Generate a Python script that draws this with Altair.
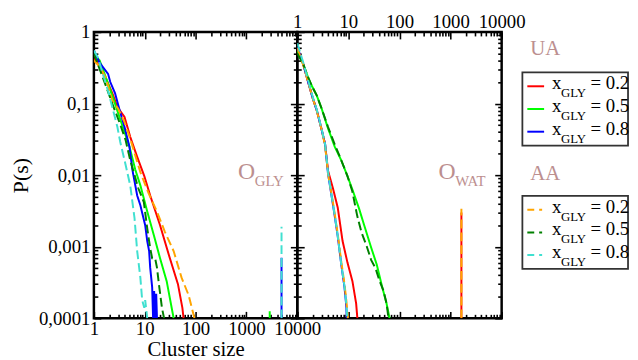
import altair as alt
import pandas as pd

# ------------------------------------------------------------------ data
series_keys = ["ua02", "ua05", "ua08", "aa02", "aa05", "aa08"]
series_group = ["UA", "UA", "UA", "AA", "AA", "AA"]
series_xgly = ["0.2", "0.5", "0.8", "0.2", "0.5", "0.8"]
series_colors = ["#ff0000", "#00ff00", "#0000ff", "#ffa500", "#008000", "#40e0d0"]
group_titles = ["UA", "AA"]
panel_keys = ["GLY", "WAT"]
panel_main = ["O", "O"]
panel_sub = ["GLY", "WAT"]

# O_GLY panel
gly_ua02_x = [1, 1.1, 1.7, 2.3, 2.9, 4.0, 5.2, 7.1, 9.8, 12.8, 20, 31, 45, 55, 58]
gly_ua02_y = [0.42, 0.40, 0.23, 0.14, 0.089, 0.065, 0.034, 0.018, 0.0097, 0.0052, 0.002, 0.0007, 0.0003, 0.00014, 0.0001]
gly_ua05_x = [1, 1.3, 1.9, 2.6, 3.7, 5.0, 6.5, 8.2, 11.2, 15.3, 20, 27, 37]
gly_ua05_y = [0.50, 0.40, 0.19, 0.10, 0.047, 0.025, 0.012, 0.0072, 0.0031, 0.0014, 0.00069, 0.00033, 0.0001]
gly_ua08_x = [1, 1.3, 1.9, 2.1, 2.6, 3.2, 4.0, 5.0, 5.7, 7.1, 8.2, 10.2, 11.2, 12.2, 12.8, 14.0, 14.6, 15.3, 16.0, 16.8, 17.4]
gly_ua08_y = [0.55, 0.37, 0.26, 0.20, 0.14, 0.081, 0.047, 0.025, 0.012, 0.0052, 0.0038, 0.002, 0.0012, 0.00087, 0.00051, 0.00027, 0.0001, 0.00024, 0.0001, 0.00022, 0.0001]
gly_aa02_x = [1, 1.3, 1.7, 2.3, 3.0, 4.0, 5.2, 8.2, 12, 17.4, 25, 37, 53, 73, 95]
gly_aa02_y = [0.40, 0.33, 0.23, 0.11, 0.085, 0.055, 0.032, 0.011, 0.0055, 0.0031, 0.0016, 0.00087, 0.00037, 0.00021, 0.0001]
gly_aa05_x = [1, 1.5, 2.3, 3.2, 4.2, 5.2, 6.3, 7.5, 9.6, 11.2, 12.8, 14, 16, 17.4, 19.1, 21.8, 24]
gly_aa05_y = [0.50, 0.23, 0.10, 0.054, 0.031, 0.016, 0.010, 0.0065, 0.0042, 0.0018, 0.00095, 0.00069, 0.00069, 0.00051, 0.00029, 0.00014, 0.0001]
gly_aa08_x = [1, 1.2, 1.5, 1.9, 2.3, 2.9, 3.3, 4.2, 5.2, 6.3, 7.1, 8.2, 8.9, 9.8, 10.2, 11.2]
gly_aa08_y = [0.55, 0.44, 0.26, 0.15, 0.089, 0.047, 0.029, 0.014, 0.0071, 0.0025, 0.00087, 0.00037, 0.00018, 0.00014, 0.00018, 0.0001]

# O_WAT panel
wat_ua02_x = [1, 1.3, 1.6, 2.0, 2.4, 3.0, 3.5, 4.0, 5.0, 6.2, 7.7, 9.6, 12, 14.2, 15]
wat_ua02_y = [0.60, 0.36, 0.21, 0.12, 0.081, 0.043, 0.027, 0.0115, 0.0065, 0.0035, 0.0012, 0.0006, 0.00033, 0.00016, 0.0001]
wat_ua05_x = [1, 1.3, 1.6, 1.9, 2.4, 3.0, 4.0, 5.4, 7.3, 9.6, 11.9, 16.2, 20.4, 27.6, 36, 45, 56, 64]
wat_ua05_y = [0.55, 0.36, 0.24, 0.18, 0.13, 0.085, 0.045, 0.025, 0.016, 0.0097, 0.0064, 0.0034, 0.002, 0.001, 0.00056, 0.00029, 0.00016, 0.0001]
wat_ua08_x = [1, 1.3, 1.6, 2.0, 2.4, 3.0, 3.5, 4.0, 4.9, 5.4, 6.2, 7.3, 8.4, 9.1, 9.3]
wat_ua08_y = [0.62, 0.36, 0.21, 0.12, 0.081, 0.043, 0.027, 0.0105, 0.0042, 0.0027, 0.0014, 0.00055, 0.00027, 0.00015, 0.0001]
wat_aa02_x = [1, 1.3, 1.6, 2.0, 2.4, 3.0, 3.5, 4.0, 4.9, 5.4, 6.2, 7.3, 8.4, 9.1, 9.8]
wat_aa02_y = [0.60, 0.35, 0.21, 0.12, 0.080, 0.043, 0.026, 0.0105, 0.0045, 0.0029, 0.0015, 0.0006, 0.0003, 0.00018, 0.0001]
wat_aa05_x = [1, 1.3, 1.6, 1.9, 2.4, 3.0, 4.0, 5.4, 7.3, 9.6, 11.9, 14.9, 18, 23, 28, 34, 41, 49, 56, 61]
wat_aa05_y = [0.50, 0.36, 0.24, 0.18, 0.13, 0.085, 0.047, 0.027, 0.016, 0.0097, 0.006, 0.0027, 0.0016, 0.001, 0.00065, 0.0005, 0.00033, 0.00024, 0.00016, 0.0001]
wat_aa08_x = [1, 1.3, 1.6, 2.0, 2.4, 3.0, 3.5, 4.0, 4.9, 5.4, 6.2, 7.3, 8.4, 9.1, 9.5]
wat_aa08_y = [0.70, 0.38, 0.22, 0.125, 0.083, 0.044, 0.027, 0.011, 0.0043, 0.0028, 0.0014, 0.00055, 0.00028, 0.00016, 0.0001]

# isolated peaks (large clusters)
spike_panel = ["GLY", "GLY", "GLY", "WAT", "WAT"]
spike_series = ["ua05", "ua08", "aa08", "ua02", "aa02"]
spike_x = [2870, 4900, 4900, 1630, 1630]
spike_peak = [0.000125, 0.0007, 0.0019, 0.003, 0.0034]

x_ticks = [1, 10, 100, 1000, 10000]
x_tick_labels = ["1", "10", "100", "1000", "10000"]
y_ticks = [0.0001, 0.001, 0.01, 0.1, 1]
y_tick_labels = ["0,0001", "0,001", "0,01", "0,1", "1"]
x_title = "Cluster size"
y_title = "P(s)"

# ------------------------------------------------------------------ build tables
curves = {
    ("GLY", "ua02"): (gly_ua02_x, gly_ua02_y), ("GLY", "ua05"): (gly_ua05_x, gly_ua05_y),
    ("GLY", "ua08"): (gly_ua08_x, gly_ua08_y), ("GLY", "aa02"): (gly_aa02_x, gly_aa02_y),
    ("GLY", "aa05"): (gly_aa05_x, gly_aa05_y), ("GLY", "aa08"): (gly_aa08_x, gly_aa08_y),
    ("WAT", "ua02"): (wat_ua02_x, wat_ua02_y), ("WAT", "ua05"): (wat_ua05_x, wat_ua05_y),
    ("WAT", "ua08"): (wat_ua08_x, wat_ua08_y), ("WAT", "aa02"): (wat_aa02_x, wat_aa02_y),
    ("WAT", "aa05"): (wat_aa05_x, wat_aa05_y), ("WAT", "aa08"): (wat_aa08_x, wat_aa08_y),
}
group_of = dict(zip(series_keys, series_group))
rows = []
for (panel, key), (xv, yv) in curves.items():
    for i, (a, b) in enumerate(zip(xv, yv)):
        rows.append(dict(panel=panel, series=key, group=group_of[key], line=key, x=a, y=b, o=i))
for j, (panel, key, sx, sp) in enumerate(zip(spike_panel, spike_series, spike_x, spike_peak)):
    rows.append(dict(panel=panel, series=key, group=group_of[key], line=f"s{j}", x=sx, y=y_ticks[0], o=0))
    rows.append(dict(panel=panel, series=key, group=group_of[key], line=f"s{j}", x=sx, y=sp, o=1))
df = pd.DataFrame(rows)

# ------------------------------------------------------------------ styling
SERIF = "Liberation Serif"
ROSY = "#bc8f8f"
W_L, W_R, W_LEG, H = 206, 207, 129, 290
MAJ, MIN = 7, 4
DASH = [9, 4]


def xsc():
    return alt.Scale(type="log", domain=[x_ticks[0], x_ticks[-1]], nice=False)


def ysc():
    return alt.Scale(type="log", domain=[y_ticks[0], y_ticks[-1]], nice=False)


def label_expr(vals, labels):
    e = "''"
    for v, l in zip(vals, labels):
        e = f"abs(datum.value - {v}) < {v} * 0.001 ? '{l}' : ({e})"
    return e


minor_x = [m * 10 ** e for e in range(0, 4) for m in range(2, 10)]
minor_y = [m * 10.0 ** e for e in range(-4, 0) for m in range(2, 10)]


def make_axis(orient, values, size, labels=None, title_pad=None, title_size=22):
    kw = dict(orient=orient, values=values, tickSize=size, offset=-size, domain=False,
              grid=False, ticks=True, tickColor="black", tickWidth=1.6, labels=labels is not None)
    if labels is not None:
        kw.update(labelExpr=label_expr(values, labels), labelFont=SERIF, labelFontSize=19,
                  labelColor="black", labelOverlap=False, labelFlush=False,
                  labelPadding=(1 if orient in ("bottom", "top") else 4),
                  titleFont=SERIF, titleFontSize=title_size, titleFontWeight="normal",
                  titleColor="black")
        if title_pad is not None:
            kw.update(titlePadding=title_pad)
    return alt.Axis(**kw)


axis_df = pd.DataFrame({"x": [1], "y": [1]})


def axis_layer(xa, ya, xt=None, yt=None):
    return alt.Chart(axis_df).mark_point(opacity=0).encode(
        x=alt.X("x:Q", scale=xsc(), axis=xa, title=xt),
        y=alt.Y("y:Q", scale=ysc(), axis=ya, title=yt),
    )


color_scale = alt.Scale(domain=series_keys, range=series_colors)


def curve_layer(panel, group, dash):
    d = df[(df.panel == panel) & (df.group == group)]
    mk = dict(strokeWidth=2, clip=True)
    if dash:
        mk["strokeDash"] = DASH
    return alt.Chart(d).mark_line(**mk).encode(
        x=alt.X("x:Q", scale=xsc(), axis=None),
        y=alt.Y("y:Q", scale=ysc(), axis=None),
        color=alt.Color("series:N", scale=color_scale, legend=None),
        detail="line:N",
        order="o:Q",
    )


def panel_label(idx, px, py):
    main = alt.Chart(pd.DataFrame({"t": [panel_main[idx]]})).mark_text(
        font=SERIF, fontSize=24, color=ROSY, align="left", baseline="alphabetic"
    ).encode(text="t:N", x=alt.value(px), y=alt.value(py))
    sub = alt.Chart(pd.DataFrame({"t": [panel_sub[idx]]})).mark_text(
        font=SERIF, fontSize=15, color=ROSY, align="left", baseline="alphabetic"
    ).encode(text="t:N", x=alt.value(px + 17), y=alt.value(py + 7))
    return [main, sub]


frame = alt.ViewBackground(stroke="black", strokeWidth=2.5)

left = alt.layer(
    axis_layer(make_axis("bottom", x_ticks, MAJ, x_tick_labels, 1, 21),
               make_axis("left", y_ticks, MAJ, y_tick_labels, 6), x_title, y_title),
    axis_layer(make_axis("bottom", minor_x, MIN), make_axis("left", minor_y, MIN)),
    axis_layer(make_axis("top", x_ticks, MAJ), make_axis("right", y_ticks, MAJ)),
    axis_layer(make_axis("top", minor_x, MIN), make_axis("right", minor_y, MIN)),
    curve_layer("GLY", "UA", False),
    curve_layer("GLY", "AA", True),
    *panel_label(0, 146, 149),
).resolve_axis(x="independent", y="independent").properties(width=W_L, height=H, view=frame)

right = alt.layer(
    axis_layer(make_axis("top", x_ticks, MAJ, x_tick_labels), make_axis("left", y_ticks, MAJ)),
    axis_layer(make_axis("top", minor_x, MIN), make_axis("left", minor_y, MIN)),
    axis_layer(make_axis("bottom", x_ticks, MAJ), make_axis("right", y_ticks, MAJ)),
    axis_layer(make_axis("bottom", minor_x, MIN), make_axis("right", minor_y, MIN)),
    curve_layer("WAT", "UA", False),
    curve_layer("WAT", "AA", True),
    *panel_label(1, 143, 149),
).resolve_axis(x="independent", y="independent").properties(width=W_R, height=H, view=frame)

# ------------------------------------------------------------------ legend panel
leg_rows = []
for gi, g in enumerate(group_titles):
    keys = [k for k, gg in zip(series_keys, series_group) if gg == g]
    for i, k in enumerate(keys):
        base = 55 if gi == 0 else 180
        leg_rows.append(dict(group=g, series=k, xv=series_xgly[series_keys.index(k)],
                             py=base + i * 23))
leg = pd.DataFrame(leg_rows)
ypix = alt.Scale(domain=[0, H], range=[0, H])

leg_layers = []
for gi, g in enumerate(group_titles):
    top = 41 if gi == 0 else 166
    ttl_y = 17 if gi == 0 else 144
    leg_layers.append(
        alt.Chart(pd.DataFrame({"t": [g]})).mark_text(
            font=SERIF, fontSize=21, color=ROSY, align="left", baseline="middle"
        ).encode(text="t:N", x=alt.value(29), y=alt.value(ttl_y))
    )
    leg_layers.append(
        alt.Chart(pd.DataFrame({"t": [g]})).mark_rect(
            fill="white", stroke="#333333", strokeWidth=1.8
        ).encode(x=alt.value(21), x2=alt.value(128), y=alt.value(top), y2=alt.value(top + 74))
    )
    sub = leg[leg.group == g]
    rk = dict(strokeWidth=2)
    if g == "AA":
        rk["strokeDash"] = [7, 5, 3, 5]
    leg_layers.append(
        alt.Chart(sub).mark_rule(**rk).encode(
            x=alt.value(26), x2=alt.value(43),
            y=alt.Y("py:Q", scale=ypix, axis=None),
            color=alt.Color("series:N", scale=color_scale, legend=None),
        )
    )
    leg_layers.append(
        alt.Chart(sub).transform_calculate(t="'x'").mark_text(
            font=SERIF, fontSize=19, color="black", align="left", baseline="alphabetic", dy=3
        ).encode(x=alt.value(51), y=alt.Y("py:Q", scale=ypix, axis=None), text="t:N")
    )
    leg_layers.append(
        alt.Chart(sub).transform_calculate(t="'GLY'").mark_text(
            font=SERIF, fontSize=13, color="black", align="left", baseline="alphabetic", dy=11
        ).encode(x=alt.value(60), y=alt.Y("py:Q", scale=ypix, axis=None), text="t:N")
    )
    leg_layers.append(
        alt.Chart(sub).transform_calculate(t="'= ' + datum.xv").mark_text(
            font=SERIF, fontSize=19, color="black", align="left", baseline="alphabetic", dy=3
        ).encode(x=alt.value(90), y=alt.Y("py:Q", scale=ypix, axis=None), text="t:N")
    )

legend_panel = alt.layer(*leg_layers).properties(
    width=W_LEG, height=H, view=alt.ViewBackground(stroke="transparent")
)

chart = alt.hconcat(left, right, legend_panel, spacing=0, bounds="flush").properties(
    padding={"left": 0, "top": 0, "right": 0, "bottom": 0}
).configure_view(stroke="transparent").configure(background="white")

chart.save("out.html", embed_options={"renderer": "svg", "actions": False})
